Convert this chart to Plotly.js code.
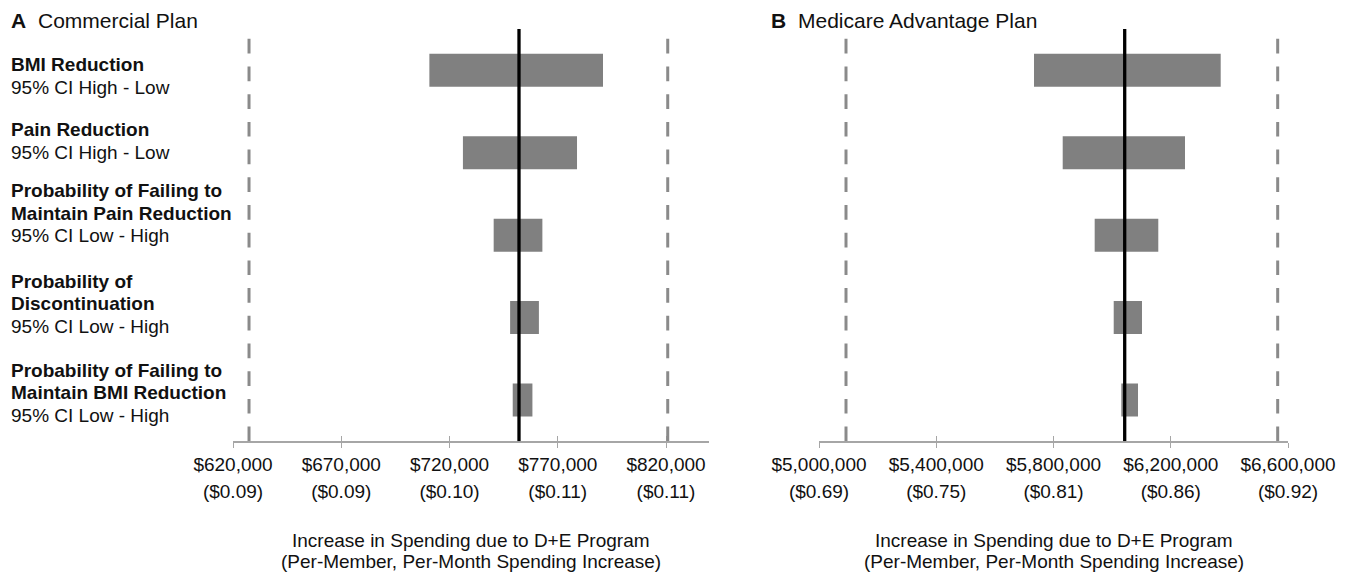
<!DOCTYPE html>
<html>
<head>
<meta charset="utf-8">
<script src="https://cdn.plot.ly/plotly-3.0.1.min.js"></script>
<style>
  html, body { margin: 0; padding: 0; background: #ffffff; }
  #chart { width: 1351px; height: 572px; }
</style>
</head>
<body>
<div id="chart"></div>
<script>
// ---- Tornado data: one-way sensitivity of program spending ----
const parameterNames = [
  'BMI Reduction',
  'Pain Reduction',
  'Probability of Failing to<br>Maintain Pain Reduction',
  'Probability of<br>Discontinuation',
  'Probability of Failing to<br>Maintain BMI Reduction'
];
const ciLabels = [
  '95% CI High - Low',
  '95% CI High - Low',
  '95% CI Low - High',
  '95% CI Low - High',
  '95% CI Low - High'
];

// Panel A: commercial plan (total increase in spending, $)
const commercialLow  = [710700, 726200, 740400, 748000, 749200];
const commercialHigh = [790900, 778900, 762900, 761300, 758300];
const commercialBase = 752100;
const commercialBounds = [627400, 820800];
const commercialTicks = [620000, 670000, 720000, 770000, 820000];
const commercialTickText = ['$620,000', '$670,000', '$720,000', '$770,000', '$820,000'];
const commercialPmpmText = ['($0.09)', '($0.09)', '($0.10)', '($0.11)', '($0.11)'];

// Panel B: Medicare Advantage plan
const maLow  = [5733500, 5831400, 5940500, 6005400, 6031300];
const maHigh = [6370400, 6248600, 6157500, 6101900, 6088300];
const maBase = 6042900;
const maBounds = [5092100, 6564800];
const maTicks = [5000000, 5400000, 5800000, 6200000, 6600000];
const maTickText = ['$5,000,000', '$5,400,000', '$5,800,000', '$6,200,000', '$6,600,000'];
const maPmpmText = ['($0.69)', '($0.75)', '($0.81)', '($0.86)', '($0.92)'];

// ---- styling ----
const FONT = '"Liberation Sans", Arial, Helvetica, sans-serif';
const TEXT = '#111111';
const BAR = '#808080';
const AXIS = '#a6a6a6';
const DASH = '#8a8a8a';
const W = 1351, H = 572;

const rows = parameterNames.map((_, i) => i);
const domainA = [233 / W, 709.3 / W];
const domainB = [819 / W, 1288 / W];
const yDomain = [1 - 441.3 / H, 1 - 29 / H];

function barTrace(low, high, xa, ya) {
  return {
    type: 'bar', orientation: 'h',
    y: rows,
    x: high.map((h, i) => h - low[i]),
    base: low,
    width: 0.4,
    marker: { color: BAR, line: { width: 0 } },
    xaxis: xa, yaxis: ya,
    hoverinfo: 'skip', showlegend: false
  };
}

// transparent carrier so the per-member-per-month axes get drawn
function carrier(ticks, xa, ya) {
  return {
    type: 'scatter', mode: 'markers',
    x: ticks, y: ticks.map(() => 2),
    marker: { opacity: 0, size: 1 },
    xaxis: xa, yaxis: ya, hoverinfo: 'skip', showlegend: false
  };
}

const data = [
  barTrace(commercialLow, commercialHigh, 'x', 'y'),
  barTrace(maLow, maHigh, 'x2', 'y2'),
  carrier(commercialTicks, 'x3', 'y'),
  carrier(maTicks, 'x4', 'y2')
];

function mainAxis(domain, range, ticks, text, anchor) {
  return {
    domain, range, anchor,
    tickmode: 'array', tickvals: ticks, ticktext: text,
    ticks: 'outside', ticklen: 5, tickwidth: 1, tickcolor: AXIS,
    showline: true, linecolor: AXIS, linewidth: 1.5,
    showgrid: false, zeroline: false,
    tickfont: { family: FONT, size: 19, color: TEXT },
    fixedrange: true
  };
}
function pmpmAxis(domain, range, ticks, text, anchor, over) {
  return {
    domain, range, anchor, overlaying: over, side: 'bottom',
    tickmode: 'array', tickvals: ticks, ticktext: text,
    ticks: 'inside', ticklen: 5, tickwidth: 1, tickcolor: AXIS,
    showline: false, showgrid: false, zeroline: false,
    showticklabels: true,
    ticklabelstandoff: 37,
    tickfont: { family: FONT, size: 19, color: TEXT },
    fixedrange: true
  };
}
function catAxis(anchor) {
  return {
    domain: yDomain, range: [4.5, -0.5], anchor,
    showline: false, showgrid: false, zeroline: false,
    showticklabels: false, ticks: '', fixedrange: true
  };
}

// reference lines: base case (solid) and bounds (dashed)
function vline(xref, x, color, width, dash) {
  return {
    type: 'line', xref, yref: xref === 'x' ? 'y' : 'y2',
    x0: x, x1: x, y0: 4.5, y1: -0.5,
    line: { color, width, dash }, layer: 'above'
  };
}
const shapes = [
  ...commercialBounds.map(v => vline('x', v, DASH, 3, '14.7px,13px')),
  ...maBounds.map(v => vline('x2', v, DASH, 3, '14.7px,13px')),
  vline('x', commercialBase, '#000000', 3.3, 'solid'),
  vline('x2', maBase, '#000000', 3.3, 'solid')
];

// row labels on the left: bold parameter name, then the CI direction
const labelShift = [5.6, -11.9, -21.9, -13.7, -7.5];
const linePitch = 22.5;
const annotations = [];
parameterNames.forEach((name, i) => {
  const lines = name.split('<br>').map(t => '<b>' + t + '</b>').concat([ciLabels[i]]);
  const n = lines.length;
  lines.forEach((t, j) => {
    const offset = labelShift[i] + (j - (n - 1) / 2) * linePitch;
    annotations.push({
      xref: 'paper', yref: 'y', x: 9 / W, y: i, yshift: -offset,
      xanchor: 'left', yanchor: 'middle', text: t, showarrow: false,
      font: { family: FONT, size: 19, color: TEXT }
    });
  });
});

// panel headings
function heading(x, text, bold) {
  annotations.push({
    xref: 'paper', yref: 'paper', x: x / W, y: 1 - 20 / H,
    xanchor: 'left', yanchor: 'middle', showarrow: false,
    text: bold ? '<b>' + text + '</b>' : text,
    font: { family: FONT, size: 21, color: TEXT }
  });
}
heading(9, 'A', true);
heading(36, 'Commercial Plan', false);
heading(769, 'B', true);
heading(796, 'Medicare Advantage Plan', false);

// axis titles (two lines each)
const axisTitle = ['Increase in Spending due to D+E Program', '(Per-Member, Per-Month Spending Increase)'];
['x', 'x2'].forEach(ax => {
  axisTitle.forEach((t, j) => {
    annotations.push({
      xref: ax + ' domain', yref: 'paper', x: 0.5, y: 1 - (540.5 + j * 20.5) / H,
      xanchor: 'center', yanchor: 'middle', showarrow: false, text: t,
      font: { family: FONT, size: 19, color: TEXT }
    });
  });
});

const layout = {
  width: W, height: H,
  margin: { l: 0, r: 0, t: 0, b: 0 },
  paper_bgcolor: '#ffffff', plot_bgcolor: '#ffffff',
  showlegend: false, barmode: 'overlay',
  font: { family: FONT, color: TEXT },
  xaxis: mainAxis(domainA, [620000, 840000], commercialTicks, commercialTickText, 'y'),
  xaxis2: mainAxis(domainB, [5000000, 6600000], maTicks, maTickText, 'y2'),
  xaxis3: pmpmAxis(domainA, [620000, 840000], commercialTicks, commercialPmpmText, 'y', 'x'),
  xaxis4: pmpmAxis(domainB, [5000000, 6600000], maTicks, maPmpmText, 'y2', 'x2'),
  yaxis: catAxis('x'),
  yaxis2: catAxis('x2'),
  shapes, annotations
};

Plotly.newPlot('chart', data, layout, { displayModeBar: false, staticPlot: true });
</script>
</body>
</html>
